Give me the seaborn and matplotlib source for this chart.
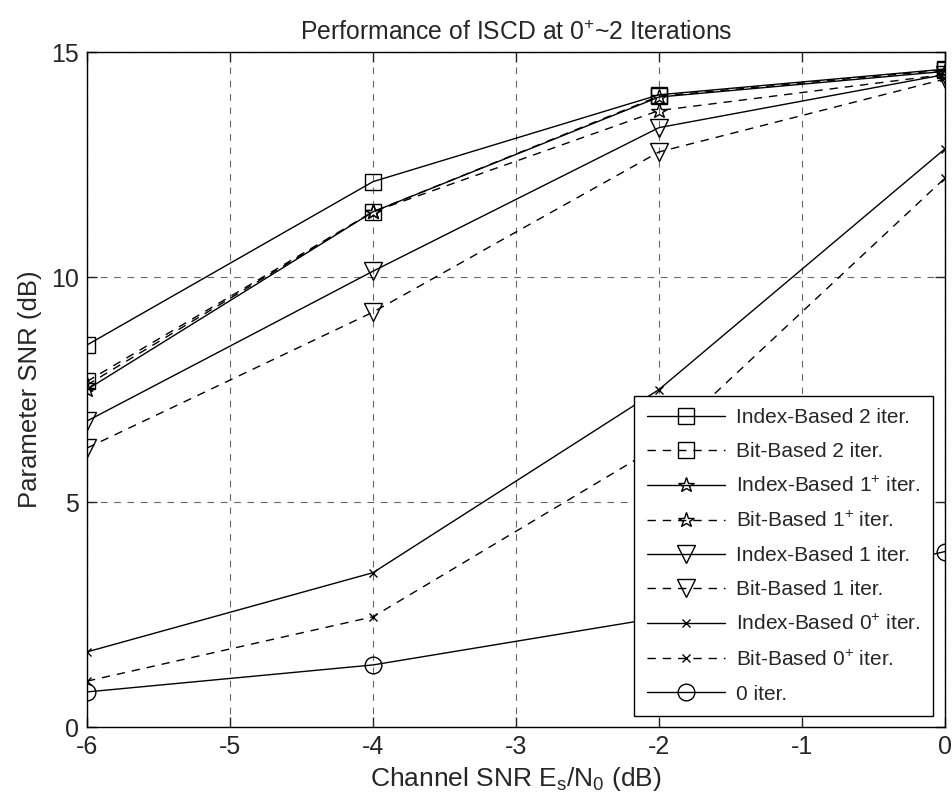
import matplotlib
matplotlib.use("Agg")
import matplotlib.pyplot as plt
import seaborn as sns
import pandas as pd

sns.set_theme(style="white")
plt.rcParams['font.family'] = ['Liberation Sans', 'DejaVu Sans']
plt.rcParams['mathtext.fontset'] = 'custom'
plt.rcParams['mathtext.rm'] = 'Liberation Sans'
plt.rcParams['mathtext.it'] = 'Liberation Sans'
plt.rcParams['axes.unicode_minus'] = False

snr = [-6, -4, -2, 0]
index_2 = [8.49, 12.12, 14.05, 14.62]
bit_2 = [7.68, 11.45, 14.02, 14.60]
index_1p = [7.50, 11.45, 14.00, 14.57]
bit_1p = [7.60, 11.45, 13.70, 14.50]
index_1 = [6.80, 10.13, 13.32, 14.50]
bit_1 = [6.20, 9.22, 12.78, 14.40]
index_0p = [1.67, 3.43, 7.50, 12.85]
bit_0p = [1.02, 2.45, 6.25, 12.20]
iter_0 = [0.78, 1.38, 2.43, 3.90]

labels = ["Index-Based 2 iter.", "Bit-Based 2 iter.",
          "Index-Based 1$^{+}$ iter.", "Bit-Based 1$^{+}$ iter.",
          "Index-Based 1 iter.", "Bit-Based 1 iter.",
          "Index-Based 0$^{+}$ iter.", "Bit-Based 0$^{+}$ iter.",
          "0 iter."]
series = [index_2, bit_2, index_1p, bit_1p, index_1, bit_1, index_0p, bit_0p, iter_0]
dash = (0, (6, 5))
styles = [("-", "s", 11.5), (dash, "s", 11.5), ("-", "*", 11.5), (dash, "*", 11.5),
          ("-", "v", 13.5), (dash, "v", 13.5), ("-", "x", 6), (dash, "x", 6),
          ("-", "o", 12)]

fig = plt.figure(figsize=(9.53, 8.08), dpi=100)
ax = fig.add_axes([0.0913, 0.1002, 0.9003, 0.8354])

for lab, vals, (ls, mk, ms) in zip(labels, series, styles):
    df = pd.DataFrame({"x": snr, "y": vals})
    sns.lineplot(data=df, x="x", y="y", ax=ax, color="black", linewidth=1.0,
                 linestyle=ls, marker=mk, markersize=ms, markerfacecolor="none",
                 markeredgecolor="black", markeredgewidth=1.0, label=lab)

ax.set_xlim(-6, 0)
ax.set_ylim(0, 15)
ax.set_xticks([-6, -5, -4, -3, -2, -1, 0])
ax.set_yticks([0, 5, 10, 15])
ax.grid(True, color="0.4", linestyle=(0, (6, 6)), linewidth=0.8)
ax.tick_params(direction="in", length=7, labelsize=18, width=1, top=True, right=True,
               bottom=True, left=True, pad=6)
for s in ax.spines.values():
    s.set_color("black")
    s.set_linewidth(1.0)

ax.set_title("Performance of ISCD at 0$^{+}$~2 Iterations", fontsize=17.8, pad=9)
ax.set_xlabel("Channel SNR E$_{s}$/N$_{0}$ (dB)", fontsize=19, labelpad=4)
ax.set_ylabel("Parameter SNR (dB)", fontsize=18.5, labelpad=6)

leg = ax.legend(loc="lower right", bbox_to_anchor=(0.986, 0.0163), borderaxespad=0,
                fontsize=15, frameon=True, fancybox=False, edgecolor="black",
                framealpha=1, handlelength=3.75, labelspacing=0.72, borderpad=0.6,
                handletextpad=0.53)
leg.get_frame().set_linewidth(1.0)

fig.savefig("out.png", dpi=100)
